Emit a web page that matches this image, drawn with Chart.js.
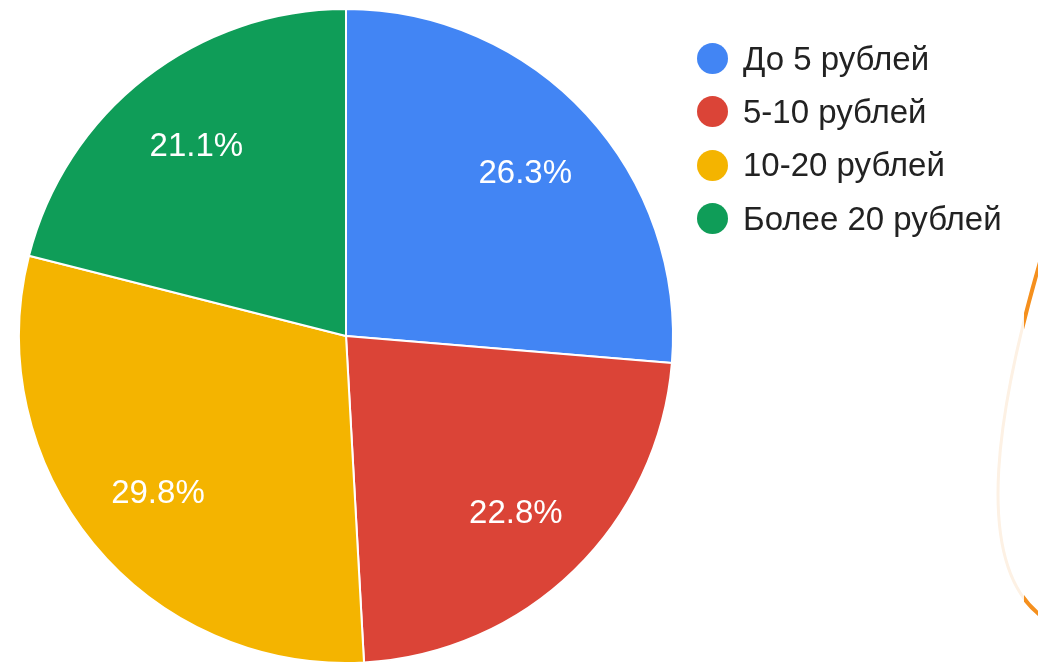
<!DOCTYPE html>
<html>
<head>
<meta charset="utf-8">
<script src="https://cdn.jsdelivr.net/npm/chart.js@4.4.1/dist/chart.umd.min.js"></script>
<style>
  html, body { margin: 0; padding: 0; background: #fff; }
  #wrap { position: relative; width: 1038px; height: 665px; overflow: hidden; }
  #c { position: absolute; left: 0; top: 0; }
  #legend { position: absolute; left: 697px; top: 32px; font-family: "Liberation Sans", Arial, sans-serif; font-size: 33px; color: #222; }
  .row { height: 53.3px; display: flex; align-items: center; white-space: nowrap; }
  .dot { width: 31px; height: 31px; border-radius: 50%; margin-right: 15px; flex: none; }
</style>
</head>
<body>
<div id="wrap">
  <canvas id="c" width="1038" height="665"></canvas>
  <div id="legend"></div>
</div>
<script>
const categories = ["До 5 рублей", "5-10 рублей", "10-20 рублей", "Более 20 рублей"];
const counts = [15, 13, 17, 12];
const percentLabels = ["26.3%", "22.8%", "29.8%", "21.1%"];
const colors = ["#4285f4", "#db4437", "#f4b400", "#0f9d58"];

const sliceLabels = {
  id: 'sliceLabels',
  afterDatasetsDraw(chart) {
    const ctx = chart.ctx;
    const meta = chart.getDatasetMeta(0);
    ctx.save();
    ctx.fillStyle = '#ffffff';
    ctx.font = '33px "Liberation Sans", Arial, sans-serif';
    ctx.textAlign = 'center';
    ctx.textBaseline = 'middle';
    meta.data.forEach((arc, i) => {
      const p = arc.getProps(['x', 'y', 'startAngle', 'endAngle', 'outerRadius'], true);
      const mid = (p.startAngle + p.endAngle) / 2;
      const r = p.outerRadius * 0.745;
      ctx.fillText(percentLabels[i], p.x + Math.cos(mid) * r, p.y + Math.sin(mid) * r + 3);
    });
    ctx.restore();
  }
};

const decoration = {
  id: 'decoration',
  afterDraw(chart) {
    const ctx = chart.ctx;
    const path = () => {
      ctx.beginPath();
      ctx.moveTo(1040, 262);
      ctx.bezierCurveTo(1000, 400, 970, 560, 1040, 615);
    };
    ctx.save();
    path();
    ctx.strokeStyle = '#fdf1e4';
    ctx.lineWidth = 3;
    ctx.stroke();
    ctx.beginPath();
    ctx.rect(1024, 0, 20, 665);
    ctx.clip();
    path();
    ctx.strokeStyle = '#f5901e';
    ctx.lineWidth = 4;
    ctx.stroke();
    ctx.restore();
  }
};

new Chart(document.getElementById('c'), {
  type: 'pie',
  data: {
    labels: categories,
    datasets: [{
      data: counts,
      backgroundColor: colors,
      borderColor: '#ffffff',
      borderWidth: 2
    }]
  },
  options: {
    responsive: false,
    animation: false,
    layout: { padding: { left: 18, right: 364, top: 8, bottom: 1 } },
    plugins: { legend: { display: false }, tooltip: { enabled: false } }
  },
  plugins: [sliceLabels, decoration]
});

const legend = document.getElementById('legend');
categories.forEach((name, i) => {
  const row = document.createElement('div');
  row.className = 'row';
  const dot = document.createElement('span');
  dot.className = 'dot';
  dot.style.background = colors[i];
  const txt = document.createElement('span');
  txt.textContent = name;
  row.appendChild(dot);
  row.appendChild(txt);
  legend.appendChild(row);
});
</script>
</body>
</html>
